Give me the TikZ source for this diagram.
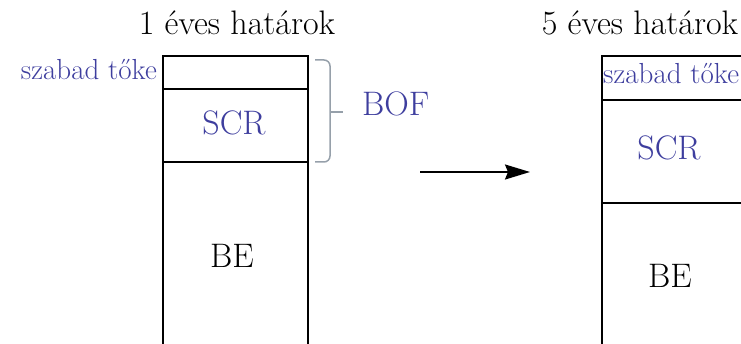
\documentclass[tikz,border=0pt]{standalone}
\usetikzlibrary{arrows.meta}
\definecolor{txtblue}{RGB}{62,62,158}
\definecolor{bracegray}{RGB}{150,160,170}
\tikzset{
  seg/.style={draw=black, line width=1.6pt, minimum width=#1, inner sep=0pt},
  title/.style={font=\fontsize{34}{39}\selectfont, inner sep=0pt, anchor=base},
  lbl/.style={font=\fontsize{34}{39}\selectfont, inner sep=0pt, anchor=base},
  small/.style={font=\fontsize{29}{34}\selectfont, inner sep=0pt, text=txtblue},
  conn/.style={line width=1.8pt, -{Stealth[length=25pt,width=15pt,inset=3pt]}},
}
\begin{document}
\begin{tikzpicture}[x=1pt,y=-1pt]
\useasboundingbox (0,0) rectangle (741,344);
\clip (0,0) rectangle (741,344);
% left column
\node[seg=145pt, minimum height=33pt, anchor=north west] (l1) at (162,55) {};
\node[seg=145pt, minimum height=73pt, anchor=north west] (l2) at (162,88) {};
\node[seg=145pt, minimum height=220pt, anchor=north west] (l3) at (162,161) {};
% right column
\node[seg=220pt, minimum height=44pt, anchor=north west] (r1) at (601,55) {};
\node[seg=220pt, minimum height=103pt, anchor=north west] (r2) at (601,99) {};
\node[seg=220pt, minimum height=180pt, anchor=north west] (r3) at (601,202) {};
% titles
\node[title] (t1) at (237,35) {1 éves határok};
\node[title] (t2) at (640,35) {5 éves határok};
% labels
\node[small, anchor=base east] (fl) at (157,80) {szabad tőke};
\node[small, anchor=base west] (fr) at (603,84) {szabad tőke};
\node[lbl, text=txtblue] (scrl) at (234,135) {SCR};
\node[lbl, text=txtblue] (scrr) at (669,160) {SCR};
\node[lbl] (bel) at (232,268) {BE};
\node[lbl] (ber) at (670,288) {BE};
\node[lbl, text=txtblue, anchor=base west] (bof) at (362,116) {BOF};
% brace
\draw[bracegray, line width=1.5pt, rounded corners=6pt]
  (315,60) -| (330,112) |- (315,162);
\draw[bracegray, line width=1.5pt] (330,112) -- (343,112);
% arrow
\coordinate (as) at (420,172);
\coordinate (ae) at (530,172);
\draw[conn] (as) -- (ae);
\end{tikzpicture}
\end{document}
